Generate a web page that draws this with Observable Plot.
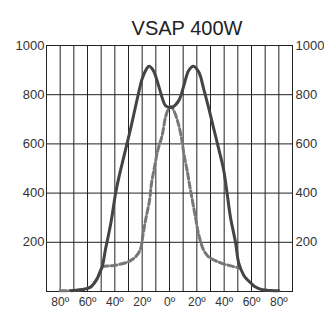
<!DOCTYPE html>
<html>
<head>
<meta charset="utf-8">
<script src="https://cdn.jsdelivr.net/npm/d3@7"></script>
<script src="https://cdn.jsdelivr.net/npm/@observablehq/plot@0.6"></script>
<style>
  html, body { margin: 0; padding: 0; background: #fff; }
  #chart svg { display: block; }
</style>
</head>
<body>
<div id="chart"></div>
<script>
const titleText = "VSAP 400W";

// Solid curve
const solidAngle = [-72, -65, -58, -53, -49, -47, -43, -39.5, -37, -33.5, -28.5, -23.6, -20, -17, -15, -12, -8, -5.5, -3, 0, 2, 6.8, 10.5, 14, 17.5, 21.5, 25, 28.8, 32.4, 36.1, 39.7, 42.2, 44.6, 48.3, 50.7, 54.4, 57, 60, 63, 68, 74, 80];
const solidValue = [3, 7, 17, 52, 106, 167, 275, 397, 465, 546, 661, 783, 865, 903, 916, 900, 837, 790, 756, 748, 749, 776, 837, 898, 916, 891, 824, 743, 661, 578, 492, 397, 302, 200, 115, 65, 48, 32, 18, 7, 4, 3];

// Dashed curve
const dashAngle = [-80, -72, -65, -58, -53, -49, -45, -40.7, -31, -25, -21.2, -19.3, -17.1, -14.6, -13.2, -11, -8.6, -5.4, -2.9, -0.5, 1, 3.1, 6.8, 9.3, 10.5, 12.9, 15.4, 19, 21.5, 25.1, 28.8, 36.1, 43.4, 50.7];
const dashValue = [3, 4, 7, 17, 52, 99, 104, 106, 119, 140, 173, 234, 302, 370, 438, 505, 573, 634, 709, 745, 752, 736, 675, 607, 560, 492, 411, 302, 228, 167, 140, 119, 106, 96];

const xGrid = [-80, -70, -60, -50, -40, -30, -20, -10, 0, 10, 20, 30, 40, 50, 60, 70, 80];
const xTicks = [-80, -60, -40, -20, 0, 20, 40, 60, 80];
const yGrid = [200, 400, 600, 800];
const yTicks = [200, 400, 600, 800, 1000];

const solid = solidAngle.map((a, i) => ({a, v: solidValue[i]}));
const dashed = dashAngle.map((a, i) => ({a, v: dashValue[i]}));

const font = "'Liberation Sans', Arial, Helvetica, sans-serif";

const chart = Plot.plot({
  width: 324,
  height: 311,
  marginTop: 45,
  marginRight: 32,
  marginBottom: 20,
  marginLeft: 46,
  style: {fontFamily: font, color: "#333", background: "#fff"},
  x: {domain: [-90, 90]},
  y: {domain: [0, 1000]},
  marks: [
    Plot.gridX(xGrid, {stroke: "#222", strokeOpacity: 1}),
    Plot.gridY(yGrid, {stroke: "#222", strokeOpacity: 1}),
    Plot.frame({stroke: "#222"}),
    Plot.line(dashed, {x: "a", y: "v", curve: "catmull-rom", stroke: "#777", strokeWidth: 3, strokeDasharray: "6,3"}),
    Plot.line(solid, {x: "a", y: "v", curve: "catmull-rom", stroke: "#444", strokeWidth: 3}),
    Plot.axisY(yTicks, {anchor: "left", tickSize: 0, tickPadding: 2, fontSize: 13, label: null, tickFormat: d => String(d)}),
    Plot.axisY(yTicks, {anchor: "right", tickSize: 0, tickPadding: 3, fontSize: 13, label: null, tickFormat: d => String(d)}),
    Plot.axisX(xTicks, {anchor: "bottom", tickSize: 0, tickPadding: 6, fontSize: 12, label: null, tickFormat: d => Math.abs(d) + "º"}),
    Plot.text([titleText], {frameAnchor: "top", dx: 17.5, dy: -25, fontSize: 20, fill: "#222"})
  ]
});
document.getElementById("chart").appendChild(chart);
</script>
</body>
</html>
